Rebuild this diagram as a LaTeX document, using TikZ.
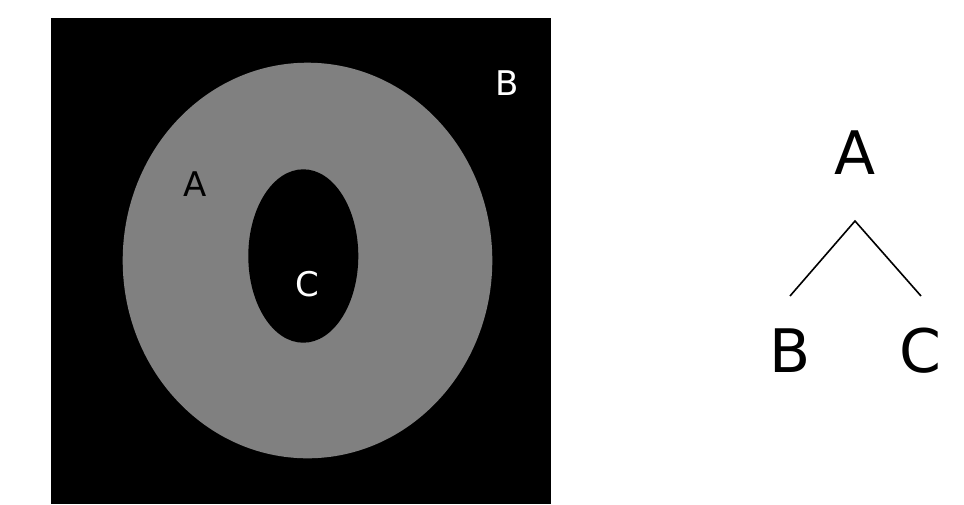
\documentclass[tikz,border=0pt]{standalone}
\usepackage{fontspec}
\setmainfont{DejaVu Sans}
\begin{document}
\begin{tikzpicture}[x=1pt,y=-1pt,
  small/.style={inner sep=0pt,anchor=base,font=\fontsize{34}{40}\selectfont},
  big/.style={inner sep=0pt,anchor=base,font=\fontsize{60}{70}\selectfont},
  branch/.style={line width=1.6pt}]
\useasboundingbox (0,0) rectangle (964,504);
\fill[white] (0,0) rectangle (964,504);
\fill[black] (51,18) rectangle (550.7,504);
\fill[gray] (307.5,260.5) ellipse [x radius=184.8, y radius=197.8];
\fill[black] (303.3,256) ellipse [x radius=55, y radius=86.7];
\node[small,text=black] (la) at (194.7,196.7) {A};
\node[small,text=white] (lb) at (506.7,95) {B};
\node[small,text=white] (lc) at (307.8,296) {C};
\node[big] (ta) at (855,174) {A};
\node[big] (tb) at (790.5,372) {B};
\node[big] (tc) at (920.5,372) {C};
\coordinate (apex) at (855,221);
\coordinate (bl) at (790,296);
\coordinate (cr) at (921,296);
\draw[branch] (bl) -- (apex) -- (cr);
\end{tikzpicture}
\end{document}
